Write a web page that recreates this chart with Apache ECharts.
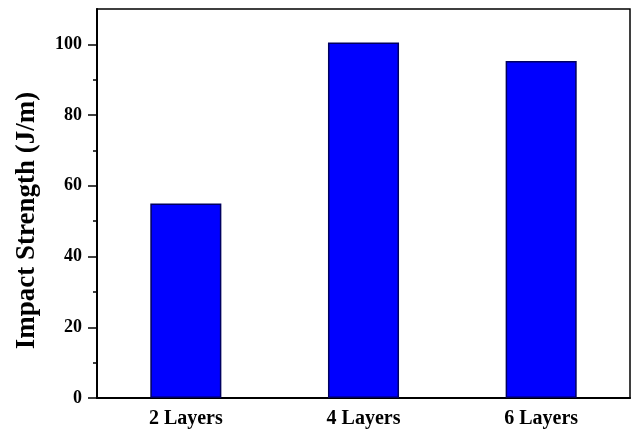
<!DOCTYPE html>
<html>
<head>
<meta charset="utf-8">
<script src="https://cdn.jsdelivr.net/npm/echarts@6/dist/echarts.min.js"></script>
<style>
  html, body { margin: 0; padding: 0; background: #fff; }
  #chart { width: 632px; height: 432px; }
</style>
</head>
<body>
<div id="chart"></div>
<script>
// Impact strength of laminates by number of layers
const categories = ['2 Layers', '4 Layers', '6 Layers'];
const impactStrength = [55, 100.5, 95.3];
const majorTicks = [0, 20, 40, 60, 80, 100];
const minorTicks = [10, 30, 50, 70, 90];
const yMax = 110;

const serif = 'Liberation Serif, Times New Roman, serif';
const gridRect = { left: 97, right: 2, top: 9, bottom: 34 };

const chart = echarts.init(document.getElementById('chart'), null, { renderer: 'canvas' });
chart.setOption({
  animation: false,
  backgroundColor: '#ffffff',
  grid: [
    Object.assign({ show: true, borderColor: '#000', borderWidth: 1.5, backgroundColor: 'transparent' }, gridRect),
    Object.assign({ show: false }, gridRect)
  ],
  xAxis: [
    {
      type: 'category', gridIndex: 0, data: categories,
      axisLine: { lineStyle: { color: '#000', width: 2 } },
      axisTick: { alignWithLabel: true, length: 8, lineStyle: { color: '#000', width: 1.5 } },
      axisLabel: { color: '#000', fontFamily: serif, fontWeight: 'bold', fontSize: 20, margin: 11 }
    },
    {
      // short ticks on the category boundaries
      type: 'category', gridIndex: 1, data: categories,
      axisLine: { show: false },
      axisTick: { length: 4, lineStyle: { color: '#000', width: 1.5 } },
      axisLabel: { show: false }
    }
  ],
  yAxis: [
    {
      type: 'value', gridIndex: 0, min: 0, max: yMax,
      name: 'Impact Strength (J/m)', nameLocation: 'middle', nameGap: 56,
      nameTextStyle: { color: '#000', fontFamily: serif, fontWeight: 'bold', fontSize: 27, padding: [0, 34, 0, 0] },
      axisLine: { show: true, lineStyle: { color: '#000', width: 2 } },
      axisTick: { show: true, length: 9, customValues: majorTicks, lineStyle: { color: '#000', width: 1.5 } },
      axisLabel: { color: '#000', fontFamily: serif, fontWeight: 'bold', fontSize: 18, margin: 15, customValues: majorTicks },
      splitLine: { show: false }
    },
    {
      // minor ticks between labelled values
      type: 'value', gridIndex: 1, min: 0, max: yMax,
      axisLine: { show: false },
      axisTick: { show: true, length: 4, customValues: minorTicks, lineStyle: { color: '#000', width: 1.5 } },
      axisLabel: { show: false },
      splitLine: { show: false }
    }
  ],
  series: [
    {
      type: 'bar', xAxisIndex: 0, yAxisIndex: 0,
      data: impactStrength, barWidth: '40%',
      itemStyle: { color: '#0000ff', borderColor: '#000060', borderWidth: 1.5 }
    }
  ]
});
</script>
</body>
</html>
